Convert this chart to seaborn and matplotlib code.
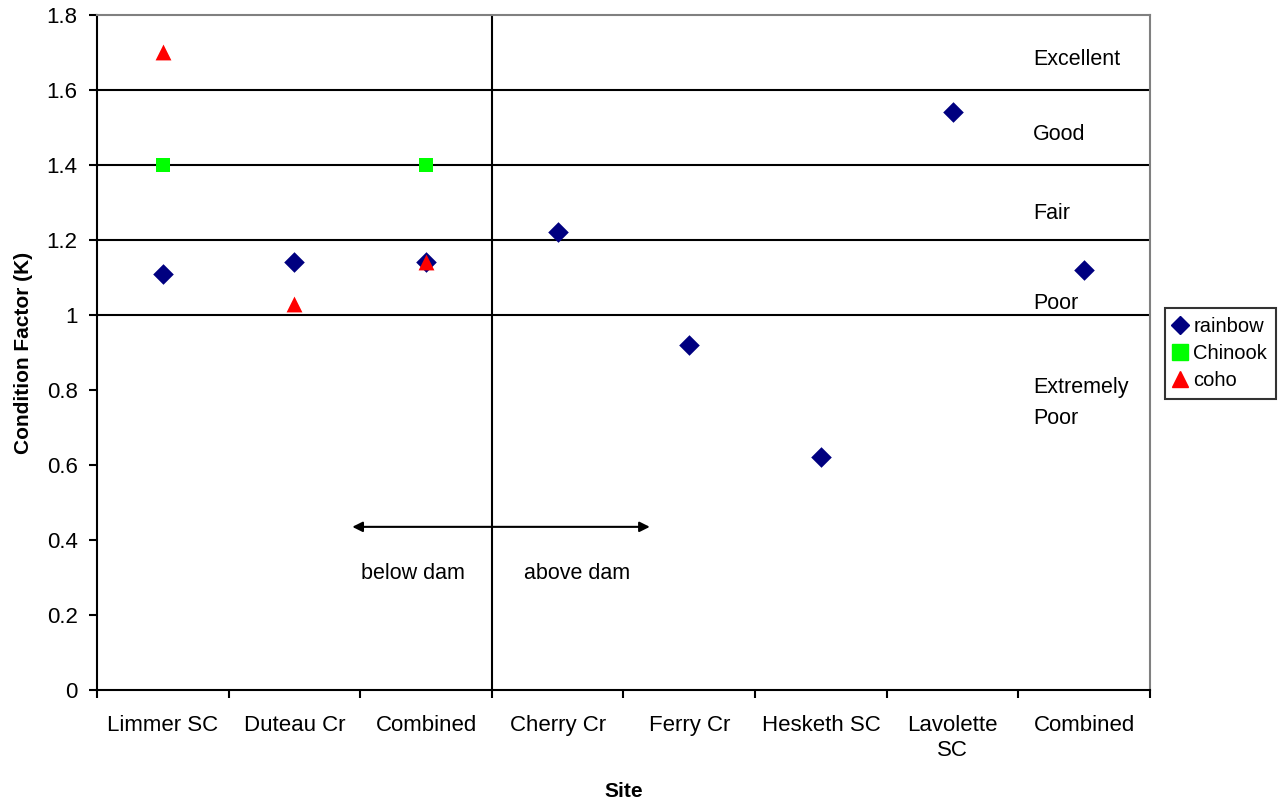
import pandas as pd
import seaborn as sns
import matplotlib.pyplot as plt
from matplotlib.lines import Line2D

# Site names (two "Combined" groups: below and above dam)
sites = ["Limmer SC", "Duteau Cr", "Combined", "Cherry Cr", "Ferry Cr",
         "Hesketh SC", "Lavolette\nSC", "Combined"]

# Condition factor per species (None = not sampled)
rainbow = [1.11, 1.14, 1.14, 1.22, 0.92, 0.62, 1.54, 1.12]
chinook = [1.40, None, 1.40, None, None, None, None, None]
coho = [1.70, 1.03, 1.14, None, None, None, None, None]

# Condition class boundaries and labels
class_lines = [1.0, 1.2, 1.4, 1.6]
class_labels = ["Excellent", "Good", "Fair", "Poor", "Extremely\nPoor"]
class_label_y = [1.68, 1.48, 1.27, 1.03, 0.765]

species = ["rainbow", "Chinook", "coho"]
colors = {"rainbow": "#000080", "Chinook": "#00FF00", "coho": "#FF0000"}
markers = {"rainbow": "D", "Chinook": "s", "coho": "^"}

rows = []
for name, vals in zip(species, [rainbow, chinook, coho]):
    for i, v in enumerate(vals):
        if v is not None:
            rows.append({"pos": i, "K": v, "species": name})
df = pd.DataFrame(rows)

sns.set_style("white")
plt.rcParams["font.family"] = ["Liberation Sans", "DejaVu Sans"]
plt.rcParams["text.color"] = "black"
plt.rcParams["axes.labelcolor"] = "black"
plt.rcParams["xtick.color"] = "black"
plt.rcParams["ytick.color"] = "black"

fig = plt.figure(figsize=(12.86, 8.01), dpi=100)
ax = fig.add_axes([0.0754, 0.1386, 0.8188, 0.8427])

# condition class lines and dam divider
for yv in class_lines:
    ax.axhline(yv, color="black", lw=1.5, zorder=1)
ax.axvline(2.5, color="black", lw=1.5, zorder=1)

sizes = {"rainbow": 110, "Chinook": 110, "coho": 130}
for name in species:
    sub = df[df["species"] == name]
    sns.scatterplot(data=sub, x="pos", y="K", color=colors[name],
                    marker=markers[name], s=sizes[name], linewidth=0,
                    ax=ax, zorder=3, legend=False)

for lab, yv in zip(class_labels, class_label_y):
    ax.text(6.61, yv, lab, fontsize=15.5, ha="left", va="center",
            linespacing=1.6)

# below / above dam arrow
ax.annotate("", xy=(1.44, 0.435), xytext=(3.70, 0.435),
            arrowprops=dict(arrowstyle="<|-|>", color="black", lw=1.5,
                            mutation_scale=15, shrinkA=0, shrinkB=0))
ax.text(1.9, 0.31, "below dam", fontsize=15.5, ha="center", va="center")
ax.text(3.15, 0.31, "above dam", fontsize=15.5, ha="center", va="center")

ax.set_xlim(-0.5, 7.5)
ax.set_ylim(0, 1.8)
ax.set_xticks(range(len(sites)))
ax.set_xticklabels(sites, fontsize=16, linespacing=1.25)
ax.set_xticks([i - 0.5 for i in range(len(sites) + 1)], minor=True)
ax.tick_params(axis="x", which="major", length=0, pad=18)
ax.tick_params(axis="x", which="minor", length=6, width=1.5, direction="out",
               bottom=True, color="black")
yt = [0, 0.2, 0.4, 0.6, 0.8, 1.0, 1.2, 1.4, 1.6, 1.8]
ax.set_yticks(yt)
ax.set_yticklabels([f"{v:g}" for v in yt], fontsize=16)
ax.tick_params(axis="y", length=6, width=1.5, direction="out", left=True,
               pad=8, color="black")

for side in ["left", "bottom"]:
    ax.spines[side].set_color("black")
    ax.spines[side].set_linewidth(1.5)
for side in ["top", "right"]:
    ax.spines[side].set_color("#808080")
    ax.spines[side].set_linewidth(1.5)

ax.set_xlabel("Site", fontsize=15, fontweight="bold", labelpad=15)
ax.set_ylabel("Condition Factor (K)", fontsize=15, fontweight="bold",
              labelpad=10)

handles = [Line2D([], [], linestyle="none", marker=markers[n],
                  color=colors[n], markersize=11 if n != "rainbow" else 9,
                  label=n) for n in species]
leg = fig.legend(handles=handles, loc="upper left",
                 bbox_to_anchor=(1165 / 1286, 1 - 308 / 801),
                 fontsize=14.5, frameon=True, fancybox=False,
                 handlelength=0.6, handletextpad=0.35, borderpad=0.45,
                 labelspacing=0.4, borderaxespad=0)
leg.get_frame().set_edgecolor("black")
leg.get_frame().set_linewidth(1.5)

fig.savefig("out.png", dpi=100)
